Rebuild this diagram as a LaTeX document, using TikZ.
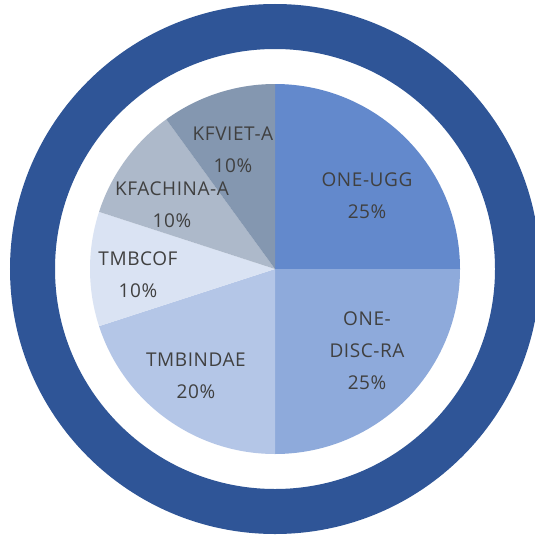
\documentclass[tikz,border=0pt]{standalone}
\usepackage{fontspec}
\setmainfont{Open Sans}[LetterSpace=3]
\definecolor{ringblue}{HTML}{2F5597}
\definecolor{cugg}{HTML}{6389CC}
\definecolor{cdisc}{HTML}{8EAADB}
\definecolor{cind}{HTML}{B4C6E7}
\definecolor{ccof}{HTML}{DAE3F3}
\definecolor{cchina}{HTML}{ADB9CA}
\definecolor{cviet}{HTML}{8497B0}
\definecolor{txt}{HTML}{404040}
\tikzset{
  lbl/.style={align=center, text=txt, inner sep=0pt, font=\fontsize{19}{32}\selectfont},
}
\newcommand{\pieslice}[3]{\fill[#1] (c) -- ++(#2:185pt) arc[start angle=#2, end angle=#3, radius=185pt] -- cycle;}
\begin{document}
\begin{tikzpicture}[x=1pt,y=-1pt]
\useasboundingbox (0,0) rectangle (535,535);
\fill[white] (0,0) rectangle (535,535);
\coordinate (c) at (275,269);
\draw[ringblue, line width=45pt] (c) circle[radius=242.5pt];
\pieslice{cugg}{90}{0}
\pieslice{cdisc}{0}{-90}
\pieslice{cind}{-90}{-162}
\pieslice{ccof}{-162}{-198}
\pieslice{cchina}{-198}{-234}
\pieslice{cviet}{-234}{-270}
\node[lbl] (ugg) at (367,196) {ONE-UGG\\25\%};
\node[lbl] (disc) at (367,351) {ONE-\\DISC-RA\\25\%};
\node[lbl] (ind) at (196,376) {TMBINDAE\\20\%};
\node[lbl] (cof) at (138,275) {TMBCOF\\10\%};
\node[lbl] (china) at (172,205) {KFACHINA-A\\10\%};
\node[lbl] (viet) at (233,150) {KFVIET-A\\10\%};
\end{tikzpicture}
\end{document}
